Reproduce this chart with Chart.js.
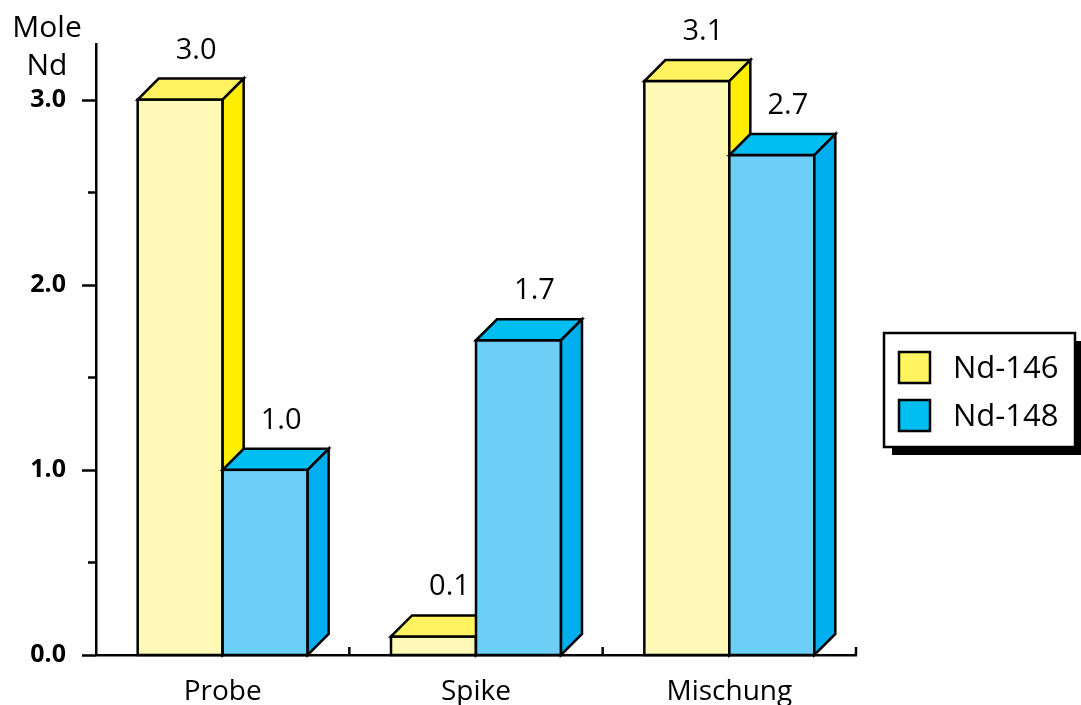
<!DOCTYPE html>
<html>
<head>
<meta charset="utf-8">
<script src="https://cdn.jsdelivr.net/npm/chart.js@4"></script>
<style>
  html, body { margin: 0; padding: 0; background: #fff; }
  #wrap { width: 1081px; height: 705px; }
</style>
</head>
<body>
<div id="wrap"><canvas id="ndChart" width="1081" height="705"></canvas></div>
<script>
// Isotopic dilution: moles of Nd-146 / Nd-148 in sample, spike and mix
const categories = ['Probe', 'Spike', 'Mischung'];
const seriesNames = ['Nd-146', 'Nd-148'];
const nd146 = [3.0, 0.1, 3.1];
const nd148 = [1.0, 1.7, 2.7];
const yTickLabels = ['0.0', '1.0', '2.0', '3.0'];

const FONT = '"Open Sans", "Noto Sans", sans-serif';
// front / top / side colours for each series
const faces = [
  { front: '#FFF9B8', top: '#FFF35F', side: '#FFEE00' },
  { front: '#6DCFF6', top: '#00BDF2', side: '#00AEEF' }
];
const DEPTH = 21;
const LINE = 2.5;

// draws every bar as a box (front, top, right side). Chart.js only lays
// the bars out; the boxes are painted here series by series so Nd-148
// overlaps the side of Nd-146.
const bar3d = {
  id: 'bar3d',
  afterDatasetsDraw(chart) {
    const ctx = chart.ctx;
    ctx.save();
    ctx.lineWidth = LINE;
    ctx.strokeStyle = '#000';
    ctx.lineJoin = 'miter';
    chart.data.datasets.forEach((ds, di) => {
      const f = faces[di];
      chart.getDatasetMeta(di).data.forEach(el => {
        const p = el.getProps(['x', 'y', 'base', 'width'], true);
        const l = p.x - p.width / 2, r = p.x + p.width / 2;
        const t = p.y, b = p.base;
        ctx.fillStyle = f.front;
        ctx.fillRect(l, t, p.width, b - t);
        ctx.strokeRect(l, t, p.width, b - t);
        ctx.beginPath();
        ctx.moveTo(l, t); ctx.lineTo(l + DEPTH, t - DEPTH);
        ctx.lineTo(r + DEPTH, t - DEPTH); ctx.lineTo(r, t); ctx.closePath();
        ctx.fillStyle = f.top; ctx.fill(); ctx.stroke();
        ctx.beginPath();
        ctx.moveTo(r, t); ctx.lineTo(r + DEPTH, t - DEPTH);
        ctx.lineTo(r + DEPTH, b - DEPTH); ctx.lineTo(r, b); ctx.closePath();
        ctx.fillStyle = f.side; ctx.fill(); ctx.stroke();
      });
    });
    ctx.restore();
  }
};

// tick marks, value labels, axis title and the boxed legend
const decor = {
  id: 'decor',
  afterDraw(chart) {
    const ctx = chart.ctx;
    const x = chart.scales.x, y = chart.scales.y;
    const area = chart.chartArea;
    ctx.save();
    ctx.strokeStyle = '#000';
    ctx.lineWidth = LINE;

    // y ticks: long at whole numbers, short at halves
    y.ticks.forEach(t => {
      const py = Math.round(y.getPixelForValue(t.value)) + 0.5;
      const len = Math.abs(t.value - Math.round(t.value)) < 1e-6 ? 14 : 8;
      ctx.beginPath();
      ctx.moveTo(area.left - len, py); ctx.lineTo(area.left, py); ctx.stroke();
    });

    // x ticks at category boundaries, pointing up
    const half = (x.getPixelForValue(1) - x.getPixelForValue(0)) / 2;
    categories.forEach((c, i) => {
      const px = x.getPixelForValue(i) + half;
      ctx.beginPath();
      ctx.moveTo(px, area.bottom); ctx.lineTo(px, area.bottom - 8); ctx.stroke();
    });

    // value labels above each bar
    ctx.fillStyle = '#000';
    ctx.font = '29px ' + FONT;
    ctx.textAlign = 'center';
    ctx.textBaseline = 'alphabetic';
    chart.data.datasets.forEach((ds, di) => {
      chart.getDatasetMeta(di).data.forEach((el, i) => {
        const p = el.getProps(['x', 'y'], true);
        ctx.fillText(ds.data[i].toFixed(1), p.x + 16, p.y - DEPTH - 20);
      });
    });

    // axis title
    ctx.font = '30px ' + FONT;
    ctx.fillText('Mole', 47, 37);
    ctx.fillText('Nd', 47, 75);

    // legend box with drop shadow
    const lx = 884, ly = 333, lw = 191, lh = 114;
    ctx.fillStyle = '#000';
    ctx.fillRect(lx + 8, ly + 8, lw, lh);
    ctx.fillStyle = '#fff';
    ctx.fillRect(lx, ly, lw, lh);
    ctx.strokeRect(lx, ly, lw, lh);
    ctx.font = '31px ' + FONT;
    ctx.textAlign = 'left';
    ctx.textBaseline = 'middle';
    seriesNames.forEach((name, i) => {
      const sy = 352 + i * 48;
      ctx.fillStyle = faces[i].top;
      ctx.fillRect(899, sy, 31, 31);
      ctx.strokeRect(899, sy, 31, 31);
      ctx.fillStyle = '#000';
      ctx.fillText(name, 953, sy + 17);
    });
    ctx.restore();
  }
};

new Chart(document.getElementById('ndChart'), {
  type: 'bar',
  data: {
    labels: categories,
    datasets: [
      { label: seriesNames[0], data: nd146, backgroundColor: 'rgba(0,0,0,0)', borderWidth: 0 },
      { label: seriesNames[1], data: nd148, backgroundColor: 'rgba(0,0,0,0)', borderWidth: 0 }
    ]
  },
  options: {
    responsive: false,
    animation: false,
    layout: { padding: { top: 44, right: 225, left: 0, bottom: 0 } },
    datasets: { bar: { categoryPercentage: 0.671, barPercentage: 1.0 } },
    plugins: { legend: { display: false }, tooltip: { enabled: false } },
    scales: {
      x: {
        grid: { display: false },
        border: { display: true, color: '#000', width: LINE },
        ticks: { color: '#000', font: { family: FONT, size: 28 }, padding: 12 },
        afterFit(scale) { scale.height = 50; }
      },
      y: {
        min: 0, max: 3.3,
        grid: { display: false },
        border: { display: true, color: '#000', width: LINE },
        ticks: {
          stepSize: 0.5, includeBounds: false, padding: 22, color: '#000',
          font: { family: FONT, size: 25, weight: 'bold' },
          callback: v => yTickLabels.find(s => Math.abs(parseFloat(s) - v) < 1e-6) || ''
        },
        afterFit(scale) { scale.width = 96; }
      }
    }
  },
  plugins: [bar3d, decor]
});
</script>
</body>
</html>
